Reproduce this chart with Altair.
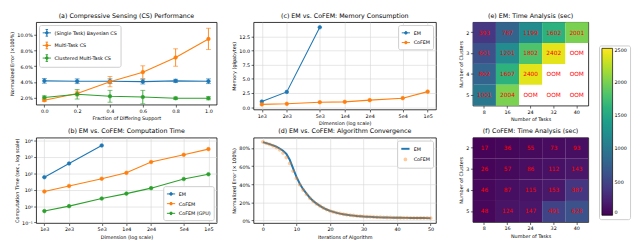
import altair as alt
import pandas as pd

FONT = "DejaVu Sans"
BLUE, ORANGE, GREEN = "#1f77b4", "#ff7f0e", "#2ca02c"

# ---------------- (a) Compressive sensing performance ----------------
frac = [0.0, 0.2, 0.4, 0.6, 0.8, 1.0]
a_names = ["(Single Task) Bayesian CS", "Multi-Task CS", "Clustered Multi-Task CS"]
a_bcs = [4.15, 4.10, 4.10, 4.05, 4.15, 4.10]
a_bcs_err = [0.30, 0.30, 0.30, 0.30, 0.20, 0.30]
a_mt = [1.70, 2.55, 4.05, 5.25, 7.10, 9.45]
a_mt_err = [0.15, 0.30, 0.65, 0.80, 1.10, 1.35]
a_cl = [2.05, 2.45, 2.20, 2.10, 1.95, 1.95]
a_cl_err = [0.20, 0.60, 0.75, 0.85, 0.15, 0.20]

# ---------------- (b)/(c) EM vs CoFEM ----------------
dims = [1000, 2000, 5000, 10000, 20000, 50000, 100000]
b_names = ["EM", "CoFEM", "CoFEM (GPU)"]
b_em = [58, 400, 5000]
b_cofem = [7.8, 17, 47, 107, 490, 1350, 3000]
b_gpu = [0.5, 1.0, 2.9, 5.8, 12.5, 45, 88]
c_names = ["EM", "CoFEM"]
c_em = [1.0, 2.7, 14.1]
c_cofem = [0.5, 0.6, 0.88, 0.95, 1.25, 1.6, 2.75]

# ---------------- (d) convergence ----------------
iters = list(range(51))
d_em = [86.5, 85.5, 84.3, 83.0, 81.5, 79.5, 77.0, 73.5, 67.0, 57.5,
        48.0, 40.5, 34.5, 29.5, 25.0, 21.5, 18.5, 16.0, 13.8, 12.0,
        10.5, 9.3, 8.3, 7.4, 6.7, 6.1, 5.6, 5.2, 4.8, 4.5,
        4.2, 4.0, 3.8, 3.6, 3.5, 3.3, 3.2, 3.1, 3.0, 2.95,
        2.9, 2.8, 2.75, 2.7, 2.65, 2.6, 2.55, 2.5, 2.5, 2.45, 2.4]
d_cofem = [86.8, 85.2, 84.0, 82.5, 80.5, 78.0, 74.5, 69.5, 63.0, 54.5,
           46.5, 39.5, 33.5, 28.8, 24.5, 21.0, 18.2, 15.8, 13.7, 11.9,
           10.4, 9.3, 8.3, 7.5, 6.8, 6.2, 5.7, 5.3, 4.9, 4.6,
           4.3, 4.1, 3.9, 3.7, 3.5, 3.4, 3.3, 3.2, 3.1, 3.0,
           2.95, 2.9, 2.85, 2.8, 2.75, 2.7, 2.65, 2.6, 2.6, 2.55, 2.5]

# ---------------- (e)/(f) heatmaps ----------------
tasks = [8, 16, 24, 32, 40]
clusters = [2, 3, 4, 5]
e_vals = [[393, 787, 1199, 1602, 2001],
          [601, 1201, 1802, 2402, None],
          [802, 1607, 2400, None, None],
          [1001, 2004, None, None, None]]
f_vals = [[17, 36, 55, 73, 93],
          [26, 57, 86, 112, 143],
          [46, 87, 115, 153, 387],
          [48, 124, 147, 491, 628]]
cbar_ticks = [0, 500, 1000, 1500, 2000, 2500]

# legend symbol paths (unit square)
CIRC = "M0.32,0A0.32,0.32,0,1,1,-0.32,0A0.32,0.32,0,1,1,0.32,0Z"
SMALL_CIRC = "M0.22,0A0.22,0.22,0,1,1,-0.22,0A0.22,0.22,0,1,1,0.22,0Z"
PATH_LINE = "M-1,0H1"
PATH_LM = PATH_LINE + CIRC
PATH_EB = PATH_LM + "M0,-0.8V0.8M-0.3,-0.8H0.3M-0.3,0.8H0.3"

# ================= panel (a) =================
rows = []
for name, vals, errs in zip(a_names, [a_bcs, a_mt, a_cl], [a_bcs_err, a_mt_err, a_cl_err]):
    for xv, v, e in zip(frac, vals, errs):
        rows.append({"x": xv, "y": v, "lo": v - e, "hi": v + e, "series": name})
df_a = pd.DataFrame(rows)

sc_a = alt.Scale(domain=a_names, range=[BLUE, ORANGE, GREEN])
leg_a = alt.Legend(title=None, orient="top-left", symbolType=PATH_EB, symbolSize=72,
                   symbolStrokeWidth=1, offset=3)
xa = alt.X("x:Q", scale=alt.Scale(domain=[-0.05, 1.05], nice=False, zero=False),
           axis=alt.Axis(values=frac, format=".1f", title="Fraction of Differing Support"))


def ya(field):
    return alt.Y(f"{field}:Q", scale=alt.Scale(domain=[1.14, 11.57], nice=False, zero=False),
                 axis=alt.Axis(values=[2, 4, 6, 8, 10], labelExpr="format(datum.value, '.1f') + '%'",
                               title="Normalized Error (×100%)"))


sa = alt.Stroke("series:N", scale=sc_a, legend=leg_a)
fa = alt.Fill("series:N", scale=sc_a, legend=leg_a)
base_a = alt.Chart(df_a)
a_rule = base_a.mark_rule(strokeWidth=0.9).encode(x=xa, y=ya("lo"), y2="hi:Q", stroke=sa)
a_lo = base_a.mark_tick(orient="horizontal", size=5, thickness=0.9).encode(x=xa, y=ya("lo"), fill=fa)
a_hi = base_a.mark_tick(orient="horizontal", size=5, thickness=0.9).encode(x=xa, y=ya("hi"), fill=fa)
a_line = base_a.mark_line(strokeWidth=1.1).encode(x=xa, y=ya("y"), stroke=sa)
a_pt = base_a.mark_point(size=14, opacity=1, strokeWidth=0.6).encode(x=xa, y=ya("y"), fill=fa, stroke=sa)
panel_a = alt.layer(a_rule, a_lo, a_hi, a_line, a_pt).properties(
    width=186, height=85, title="(a) Compressive Sensing (CS) Performance")

# ================= panel (b) =================
rows = []
for name, vals in zip(b_names, [b_em, b_cofem, b_gpu]):
    for dv, v in zip(dims, vals):
        rows.append({"dim": dv, "val": v, "series": name})
df_b = pd.DataFrame(rows)
dim_expr = "replace(format(datum.value, '.0e'), 'e+', 'e')"
sup_expr = ("datum.value < 0.5 ? '10⁻¹' : datum.value < 5 ? '10⁰' : datum.value < 50 ? '10¹' : "
            "datum.value < 500 ? '10²' : datum.value < 5000 ? '10³' : '10⁴'")
xdim = alt.X("dim:Q", scale=alt.Scale(type="log", domain=[794, 125900], nice=False),
             axis=alt.Axis(values=dims, labelExpr=dim_expr, title="Dimension (log scale)", grid=True))
yb = alt.Y("val:Q", scale=alt.Scale(type="log", domain=[0.093, 15000], nice=False),
           axis=alt.Axis(values=[0.1, 1, 10, 100, 1000, 10000], labelExpr=sup_expr,
                         title="Computation Time (sec., log scale)", grid=True))
sc_b = alt.Scale(domain=b_names, range=[BLUE, ORANGE, GREEN])
leg_b = alt.Legend(title=None, orient="bottom-right", symbolType=PATH_LM, symbolSize=72,
                   symbolStrokeWidth=1, offset=3)
base_b = alt.Chart(df_b)
b_line = base_b.mark_line(strokeWidth=1.1).encode(x=xdim, y=yb, stroke=alt.Stroke("series:N", scale=sc_b, legend=leg_b))
b_pt = base_b.mark_point(size=14, opacity=1, strokeWidth=0.6).encode(
    x=xdim, y=yb, stroke=alt.Stroke("series:N", scale=sc_b, legend=leg_b),
    fill=alt.Fill("series:N", scale=sc_b, legend=leg_b))
panel_b = alt.layer(b_line, b_pt).properties(width=186, height=88,
                                             title="(b) EM vs. CoFEM: Computation Time")

# ================= panel (c) =================
rows = []
for name, vals in zip(c_names, [c_em, c_cofem]):
    for dv, v in zip(dims, vals):
        rows.append({"dim": dv, "val": v, "series": name})
df_c = pd.DataFrame(rows)
yc = alt.Y("val:Q", scale=alt.Scale(domain=[-0.4, 15.0], nice=False, zero=False),
           axis=alt.Axis(values=[0, 2.5, 5, 7.5, 10, 12.5], format=".1f",
                         title="Memory (gigabytes)", grid=True))
sc_c = alt.Scale(domain=c_names, range=[BLUE, ORANGE])
leg_c = alt.Legend(title=None, orient="top-right", symbolType=PATH_LM, symbolSize=72,
                   symbolStrokeWidth=1, offset=3)
base_c = alt.Chart(df_c)
c_line = base_c.mark_line(strokeWidth=1.1).encode(x=xdim, y=yc, stroke=alt.Stroke("series:N", scale=sc_c, legend=leg_c))
c_pt = base_c.mark_point(size=14, opacity=1, strokeWidth=0.6).encode(
    x=xdim, y=yc, stroke=alt.Stroke("series:N", scale=sc_c, legend=leg_c),
    fill=alt.Fill("series:N", scale=sc_c, legend=leg_c))
panel_c = alt.layer(c_line, c_pt).properties(width=188, height=90,
                                             title="(c) EM vs. CoFEM: Memory Consumption")

# ================= panel (d) =================
df_d_em = pd.DataFrame({"it": iters, "err": d_em, "series": "EM"})
df_d_co = pd.DataFrame({"it": iters, "err": d_cofem, "series": "CoFEM"})
xd = alt.X("it:Q", scale=alt.Scale(domain=[-2.8, 51.6], nice=False, zero=False),
           axis=alt.Axis(values=[0, 10, 20, 30, 40, 50], title="Iterations of Algorithm", grid=True))
yd = alt.Y("err:Q", scale=alt.Scale(domain=[-3, 91.5], nice=False, zero=False),
           axis=alt.Axis(values=[0, 20, 40, 60, 80], labelExpr="format(datum.value, '.0f') + '%'",
                         title="Normalized Error (× 100%)", grid=True))
d_dom = ["EM", "CoFEM"]
leg_d = alt.Legend(title=None, orient="top-right", symbolSize=72, symbolStrokeWidth=2, offset=3)
sc_d = alt.Scale(domain=d_dom, range=[BLUE, ORANGE])
sh_d = alt.Scale(domain=d_dom, range=[PATH_LINE, SMALL_CIRC])
op_d = alt.Scale(domain=d_dom, range=[1, 0.4])
d_line = alt.Chart(df_d_em).mark_line(strokeWidth=2).encode(
    x=xd, y=yd, stroke=alt.Stroke("series:N", scale=sc_d, legend=leg_d),
    opacity=alt.Opacity("series:N", scale=op_d, legend=leg_d))
d_pt = alt.Chart(df_d_co).mark_point(size=330, filled=True, strokeWidth=0).encode(
    x=xd, y=yd, fill=alt.Fill("series:N", scale=sc_d, legend=leg_d),
    shape=alt.Shape("series:N", scale=sh_d, legend=leg_d),
    opacity=alt.Opacity("series:N", scale=op_d, legend=leg_d))
panel_d = alt.layer(d_line, d_pt).properties(width=188, height=88,
                                             title="(d) EM vs. CoFEM: Algorithm Convergence")


# ================= heatmaps =================
def heat_df(vals):
    rows = []
    for ci, row in zip(clusters, vals):
        for t, v in zip(tasks, row):
            rows.append({"task": t, "cluster": ci, "value": v,
                         "label": "OOM" if v is None else str(v)})
    return pd.DataFrame(rows)


def heatmap(vals, title, legend, h):
    df = heat_df(vals)
    hx = alt.X("task:O", sort=tasks, scale=alt.Scale(paddingInner=0, paddingOuter=0),
               axis=alt.Axis(labelAngle=0, title="Number of Tasks"))
    hy = alt.Y("cluster:O", sort=clusters, scale=alt.Scale(paddingInner=0, paddingOuter=0),
               axis=alt.Axis(labelAngle=0, title="Number of Clusters"))
    rect = alt.Chart(df).transform_filter("isValid(datum.value)").mark_rect().encode(
        x=hx, y=hy,
        color=alt.Color("value:Q", scale=alt.Scale(scheme="viridis", domain=[0, 2500]), legend=legend))
    txt = alt.Chart(df).mark_text(color="red", fontSize=6).encode(x=hx, y=hy, text="label:N")
    return alt.layer(rect, txt).properties(width=119, height=h, title=title)


leg_e = alt.Legend(title=None, orient="none", legendX=130, legendY=24, direction="vertical",
                   gradientLength=172, gradientThickness=11, values=cbar_ticks, format="d",
                   gradientStrokeColor="black", gradientStrokeWidth=0.7, labelFontSize=5, labelOffset=2)
panel_e = heatmap(e_vals, "(e) EM: Time Analysis (sec)", leg_e, 86)
panel_f = heatmap(f_vals, "(f) CoFEM: Time Analysis (sec)", None, 87)

chart = alt.concat(panel_a, panel_c, panel_e, panel_b, panel_d, panel_f,
                   columns=3, spacing={"row": 29, "column": 38}, bounds="flush",
                   align="each").resolve_scale(
    x="independent", y="independent", color="independent", fill="independent",
    stroke="independent", shape="independent", opacity="independent"
).properties(padding=1).configure(font=FONT).configure_view(
    stroke="black", strokeWidth=0.8
).configure_axis(
    labelFontSize=5, titleFontSize=5, labelColor="black", titleColor="black",
    tickColor="black", tickSize=2.5, tickWidth=0.6, domain=False, grid=False,
    gridColor="#d6d6d6", gridWidth=0.6, labelPadding=1.5, titlePadding=2.5,
    labelFlush=False, labelOverlap=False, titleFontWeight="normal"
).configure_title(
    fontSize=6.5, fontWeight="normal", offset=3, color="black"
).configure_legend(
    labelFontSize=5, labelColor="black", fillColor="white", strokeColor="#cccccc",
    padding=3, cornerRadius=2, rowPadding=1, labelOffset=3
)

chart.save("out.html", embed_options={"renderer": "svg", "actions": False})
